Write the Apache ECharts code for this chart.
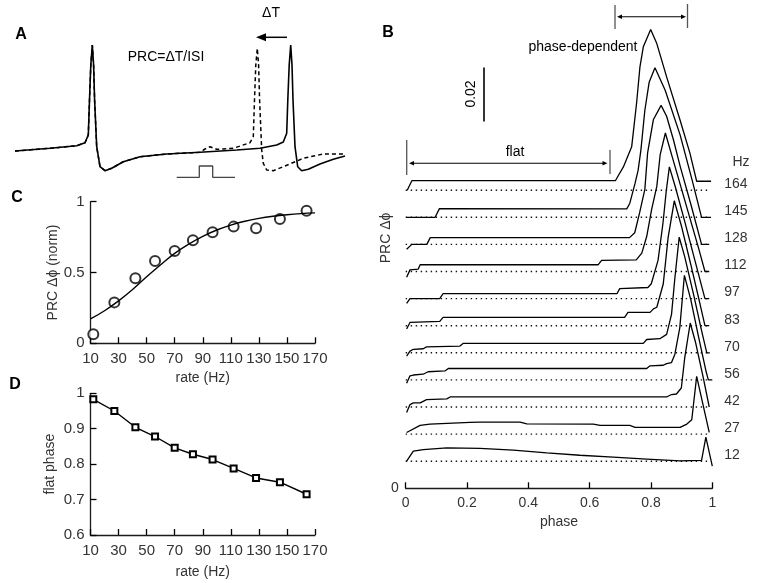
<!DOCTYPE html>
<html><head><meta charset="utf-8">
<script src="https://cdn.jsdelivr.net/npm/echarts@6/dist/echarts.min.js"></script>
<style>html,body{margin:0;padding:0;background:#fff}#c{width:764px;height:583px}</style>
</head><body><div id="c"></div>
<script>
// ---------- Panel A (schematic voltage traces; time, voltage in arbitrary units) ----------
const timeSolid = [0,35,61.7,70,73.3,74.5,75.8,77.3,78.6,79.6,81.7,85,90,96.7,108.3,125,151.7,185,221.7,245,261.7,268.3,271.7,272.8,274.2,275.7,277,278,280,282.7,286.7,293.3,305,318.3,330];
const voltSolid = [-1,1.7,4.3,7.3,15,50,85,105,85,50,3.3,-16.7,-20.7,-18.3,-11.7,-6.7,-4,-2.3,0,1.7,5,8,16.7,50,85,105,85,50,3.3,-16.7,-20.7,-19.3,-14,-9.3,-6];
const timeDash = [0,35,61.7,70,73.3,74.5,75.8,77.3,78.6,79.6,81.7,85,90,96.7,108.3,125,151.7,185,190,195,201.7,218.3,235,238.3,239.5,240.8,242.3,243.6,244.6,246.7,248.3,251.7,258.3,268.3,288.3,308.3,330];
const voltDash = [-1,1.7,4.3,7.3,15,50,85,105,85,50,3.3,-16.7,-20.7,-18.3,-11.7,-6.7,-4,-2.3,1,3.3,0.7,1.7,7.3,13.3,50,85,101.7,85,50,0,-13.3,-20,-20.7,-16.7,-8.3,-4,-4];
const timePulse = [161.7,184.3,184.3,197.7,197.7,220];
const voltPulse = [-27.3,-27.3,-16,-16,-27.3,-27.3];

// ---------- Panel C / D ----------
const rates = [12,27,42,56,70,83,97,112,128,145,164];
const prcNorm = [0.064,0.289,0.459,0.581,0.652,0.727,0.784,0.824,0.812,0.878,0.936];
const fitRate = [10,20,30,40,50,60,70,80,90,100,110,120,130,140,150,160,170];
const fitValue = [0.172,0.23,0.30,0.38,0.47,0.555,0.635,0.70,0.755,0.80,0.835,0.862,0.882,0.897,0.908,0.916,0.921];
const flatPhase = [0.983,0.950,0.904,0.878,0.846,0.828,0.813,0.788,0.761,0.749,0.715];

// ---------- Panel B: PRC traces [phase, ΔPRC] ----------
const prc12 = [[0.003,0],[0.025,0.0037],[0.057,0.0043],[0.134,0.0049],[0.242,0.0047],[0.351,0.0041],[0.460,0.0031],[0.568,0.0022],[0.677,0.0015],[0.786,0.0008],[0.895,0.0001],[0.965,0.0003],[0.979,0.0089],[1.0,-0.0018]];
const prc27 = [[0.003,0.0006],[0.047,0.0032],[0.079,0.0037],[0.210,0.0043],[0.242,0.0044],[0.373,0.0044],[0.395,0.0038],[0.612,0.0037],[0.634,0.0032],[0.731,0.0032],[0.748,0.0025],[0.895,0.0025],[0.917,0.0037],[0.933,0.0053],[0.949,0.0213],[0.990,0.0006]];
const prc42 = [[0.003,-0.0020],[0.014,0.0009],[0.025,0.0015],[0.047,0.0015],[0.057,0.0021],[0.068,0.0027],[0.134,0.0030],[0.145,0.0037],[0.851,0.0037],[0.867,0.0046],[0.883,0.0048],[0.899,0.0070],[0.910,0.0181],[0.928,0.0310],[0.945,0.0240],[0.970,0.0111],[0.990,0]];
const prc56 = [[0.003,-0.0012],[0.014,0.0015],[0.025,0.0018],[0.057,0.0021],[0.073,0.0030],[0.128,0.0033],[0.139,0.0042],[0.786,0.0042],[0.797,0.0052],[0.840,0.0054],[0.851,0.0060],[0.867,0.0064],[0.878,0.0095],[0.894,0.0193],[0.909,0.0386],[0.930,0.0295],[0.955,0.0160],[0.980,0.0030],[0.987,0],[1.0,0]];
const prc70 = [[0.003,-0.0012],[0.014,0.0006],[0.025,0.0013],[0.057,0.0015],[0.068,0.0022],[0.177,0.0025],[0.188,0.0035],[0.775,0.0035],[0.786,0.0049],[0.829,0.0052],[0.851,0.0068],[0.867,0.0142],[0.878,0.0277],[0.892,0.0427],[0.910,0.0355],[0.940,0.0210],[0.965,0.0082],[0.982,0],[0.992,0]];
const prc83 = [[0.003,-0.0012],[0.014,0.0012],[0.111,0.0016],[0.122,0.0031],[0.714,0.0031],[0.725,0.0049],[0.797,0.0049],[0.808,0.0062],[0.819,0.0068],[0.840,0.0154],[0.856,0.0326],[0.876,0.0461],[0.900,0.0365],[0.930,0.0225],[0.960,0.0080],[0.976,0],[0.990,0]];
const prc97 = [[0.003,-0.0018],[0.014,0],[0.111,0],[0.122,0.0018],[0.689,0.0018],[0.698,0.0037],[0.790,0.0041],[0.801,0.0055],[0.823,0.0141],[0.839,0.0277],[0.850,0.0399],[0.860,0.0486],[0.880,0.0410],[0.910,0.0285],[0.940,0.0155],[0.976,0],[0.990,0]];
const prc112 = [[0.003,-0.0021],[0.014,0.0006],[0.041,0.0009],[0.047,0.0025],[0.628,0.0025],[0.639,0.0041],[0.752,0.0043],[0.770,0.0068],[0.786,0.0129],[0.802,0.0228],[0.819,0.0314],[0.830,0.0431],[0.847,0.0511],[0.870,0.0420],[0.900,0.0303],[0.930,0.0185],[0.955,0.0087],[0.976,0],[0.990,0]];
const prc128 = [[0.003,-0.0018],[0.020,0],[0.069,0],[0.080,0.0025],[0.730,0.0025],[0.747,0.0043],[0.763,0.0117],[0.780,0.0203],[0.789,0.0338],[0.808,0.0461],[0.833,0.0513],[0.851,0.0473],[0.873,0.0387],[0.895,0.0289],[0.930,0.0148],[0.965,0],[0.990,0]];
const prc145 = [[0.003,0],[0.096,0],[0.110,0.0032],[0.721,0.0031],[0.731,0.0052],[0.748,0.0125],[0.758,0.0173],[0.767,0.0247],[0.780,0.0395],[0.794,0.0498],[0.813,0.0552],[0.846,0.0470],[0.895,0.0304],[0.934,0.0138],[0.965,0],[0.996,0]];
const prc164 = [[0.005,0],[0.020,0.0035],[0.684,0.0035],[0.688,0.0043],[0.710,0.0086],[0.737,0.0160],[0.753,0.0321],[0.764,0.0455],[0.775,0.0529],[0.799,0.0593],[0.819,0.0541],[0.851,0.0418],[0.895,0.0258],[0.927,0.0137],[0.949,0.0033],[0.996,0.0033]];
const prcTraces = [prc12,prc27,prc42,prc56,prc70,prc83,prc97,prc112,prc128,prc145,prc164];
const traceStep = 0.01;   // vertical offset between traces

const FONT = '"Liberation Sans", Arial, Helvetica, sans-serif';
const AX = '#1a1a1a', LBL = '#333';
const zip = (a,b) => a.map((v,i)=>[v,b[i]]);

function ax(extra){
  return Object.assign({
    type:'value',
    axisLine:{show:true,lineStyle:{color:AX,width:1.3}},
    axisTick:{show:true,inside:true,length:6,lineStyle:{color:'#000',width:1.3}},
    axisLabel:{show:true,color:LBL,fontSize:15,fontFamily:FONT,margin:8},
    splitLine:{show:false},
    nameLocation:'middle',
    nameTextStyle:{color:LBL,fontSize:14,fontFamily:FONT}
  },extra);
}
const fmt1 = v => (Math.abs(v)<1e-9||Math.abs(v-1)<1e-9)?String(Math.round(v)):v.toFixed(1);

const series = [];
// A
series.push({type:'line',xAxisIndex:0,yAxisIndex:0,data:zip(timeDash,voltDash),symbol:'none',lineStyle:{color:'#000',width:1.5,type:[4,3]},z:2});
series.push({type:'line',xAxisIndex:0,yAxisIndex:0,data:zip(timeSolid,voltSolid),symbol:'none',lineStyle:{color:'#000',width:1.6},z:3});
series.push({type:'line',xAxisIndex:0,yAxisIndex:0,data:zip(timePulse,voltPulse),symbol:'none',lineStyle:{color:'#444',width:1.3}});
// B
prcTraces.forEach((tr,i)=>{
  const off = traceStep*(i+1);
  series.push({type:'line',xAxisIndex:1,yAxisIndex:1,symbol:'none',
    data:[[0,off],[0.99,off]],
    lineStyle:{color:'#111',width:1.4,type:[1.4,3.6]},
    endLabel:{show:true,formatter:String(rates[i]),color:LBL,fontSize:14,fontFamily:FONT,distance:15,offset:[0,-6]}});
  series.push({type:'line',xAxisIndex:1,yAxisIndex:1,symbol:'none',
    data:tr.map(p=>[p[0],p[1]+off]),
    lineStyle:{color:'#000',width:1.3}});
});
// C
series.push({type:'line',xAxisIndex:2,yAxisIndex:2,data:zip(fitRate,fitValue),symbol:'none',smooth:0.4,lineStyle:{color:'#000',width:1.4}});
series.push({type:'scatter',xAxisIndex:2,yAxisIndex:2,data:zip(rates,prcNorm),symbol:'emptyCircle',symbolSize:10,itemStyle:{color:'#000',borderColor:'#000',borderWidth:1.4}});
// D
series.push({type:'line',xAxisIndex:3,yAxisIndex:3,data:zip(rates,flatPhase),symbol:'emptyRect',symbolSize:6,showSymbol:true,
  itemStyle:{color:'#000',borderColor:'#000',borderWidth:1.3},lineStyle:{color:'#000',width:1.4}});

function txt(text,x,y,opt){
  opt=opt||{};
  return {type:'text',x:x,y:y,rotation:opt.rot||0,z:10,
    style:{text:text,x:0,y:0,align:'center',verticalAlign:'middle',fill:opt.fill||'#000',
      font:(opt.bold?'bold ':'')+(opt.size||14)+'px '+FONT}};
}
function line(x1,y1,x2,y2,color,w){
  return {type:'line',shape:{x1,y1,x2,y2},style:{stroke:color||'#000',lineWidth:w||1.2},z:10};
}
function head(tx,ty,dir,len,hw){
  return {type:'polygon',shape:{points:[[tx,ty],[tx-dir*len,ty-hw],[tx-dir*len,ty+hw]]},style:{fill:'#000'},z:10};
}

const graphic = [
  txt('A',21,35,{bold:true,size:16}),
  txt('B',388,33,{bold:true,size:16}),
  txt('C',17,198,{bold:true,size:16}),
  txt('D',15,385,{bold:true,size:16}),
  txt('PRC=ΔT/ISI',166,57),
  txt('ΔT',271,13,{size:14}),
  line(287,37.3,264,37.3,'#000',1.5), head(256,37.3,-1,10,4),
  // B annotations
  txt('phase-dependent',583,47),
  line(615,5,615,29,'#555',1.3), line(687.5,4,687.5,28,'#555',1.3),
  line(620,16.7,683,16.7,'#000',1.1), head(617,16.7,-1,5,2.2), head(686,16.7,1,5,2.2),
  txt('flat',515,152),
  line(406.7,140,406.7,175,'#555',1.3), line(610,150,610,174,'#555',1.3),
  line(412,163.3,604,163.3,'#000',1.1), head(409,163.3,-1,5,2.2), head(607.5,163.3,1,5,2.2),
  line(484,67.5,484,121.5,'#000',1.6),
  txt('0.02',471.5,94,{rot:Math.PI/2}),
  txt('Hz',741,162,{fill:LBL}),
  txt('PRC Δϕ',386,238,{rot:Math.PI/2,fill:LBL})
];

const option = {
  animation:false,
  backgroundColor:'#fff',
  textStyle:{fontFamily:FONT},
  grid:[
    {left:15,top:40,width:330,height:140},
    {left:405.7,top:27.6,width:306.6,height:460.7},
    {left:90.5,top:201.7,width:224.5,height:141.6},
    {left:90.5,top:393.3,width:224.5,height:141.7}
  ],
  xAxis:[
    {gridIndex:0,type:'value',min:0,max:330,show:false},
    ax({gridIndex:1,min:0,max:1,interval:0.2,name:'phase',nameGap:26,
      axisLabel:{show:true,color:LBL,fontSize:14,fontFamily:FONT,margin:8,formatter:fmt1}}),
    ax({gridIndex:2,min:10,max:170,interval:20,name:'rate (Hz)',nameGap:28}),
    ax({gridIndex:3,min:10,max:170,interval:20,name:'rate (Hz)',nameGap:30})
  ],
  yAxis:[
    {gridIndex:0,type:'value',min:-30,max:110,show:false},
    {gridIndex:1,type:'value',min:0,max:0.17,interval:0.17,axisLine:{show:false},axisTick:{show:false},splitLine:{show:false},
      axisLabel:{color:LBL,fontSize:14,fontFamily:FONT,margin:7,formatter:v=>v===0?'0':''}},
    ax({gridIndex:2,min:0,max:1,interval:0.5,name:'PRC Δϕ (norm)',nameGap:28,
      axisLabel:{show:true,color:LBL,fontSize:15,fontFamily:FONT,margin:6,formatter:v=>String(v)}}),
    ax({gridIndex:3,min:0.6,max:1,interval:0.1,name:'flat phase',nameGap:33,
      axisLabel:{show:true,color:LBL,fontSize:15,fontFamily:FONT,margin:6,formatter:fmt1}})
  ],
  series:series,
  graphic:graphic
};
const chart = echarts.init(document.getElementById('c'),null,{renderer:'canvas'});
chart.setOption(option);
</script></body></html>
